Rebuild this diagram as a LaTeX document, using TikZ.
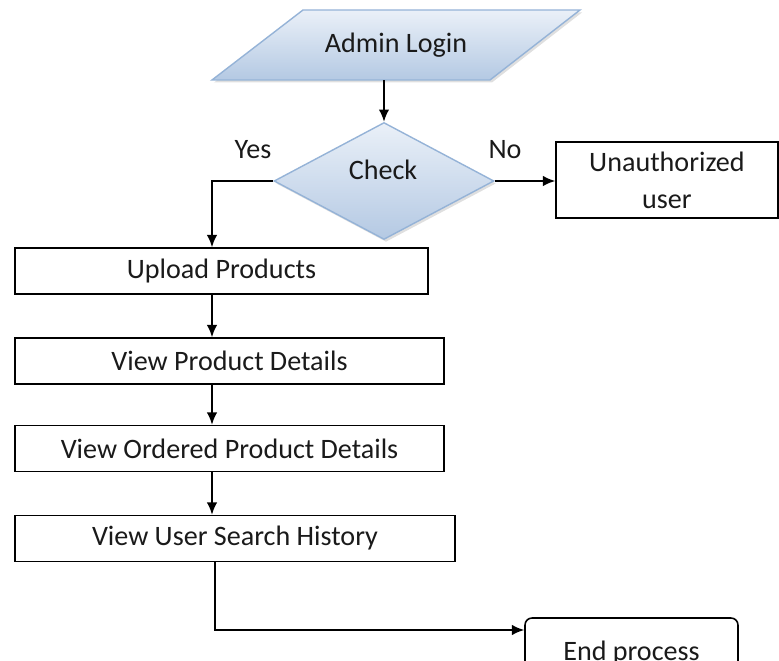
\documentclass[tikz,border=0pt]{standalone}
\usepackage{fontspec}
\setmainfont{Carlito}
\usepackage{tikz}
\usetikzlibrary{shapes.geometric,shadows,arrows.meta}
\definecolor{shapeedge}{HTML}{95B3D7}
\definecolor{shapetop}{HTML}{EAF0F8}
\definecolor{shapebottom}{HTML}{B4C9E3}
\definecolor{inktext}{HTML}{1A1A1A}

\begin{document}
\begin{tikzpicture}[x=0.02cm,y=-0.02cm,>={Latex[length=7pt,width=6pt]},
    every node/.style={font=\fontsize{16}{19}\selectfont,text=inktext},
    procbox/.style={draw,line width=0.9pt,minimum height=0.92cm,inner sep=0pt},
    conn/.style={->,line width=1pt}]
        \useasboundingbox (0,0) rectangle (779,661);

        % Input: admin login (parallelogram)
        \path[draw=shapeedge,line width=0.8pt,top color=shapetop,bottom color=shapebottom,
              drop shadow={opacity=0.25,shadow xshift=0.04cm,shadow yshift=-0.05cm}]
            (303,10) -- (580,10) -- (490,80) -- (212,80) -- cycle;
        \node[minimum height=1.4cm] (login) at (396,45) {Admin Login};

        % Decision
        \node[diamond,aspect=1.88,minimum width=4.4cm,minimum height=2.34cm,inner sep=0pt,
              draw=shapeedge,line width=0.8pt,top color=shapetop,bottom color=shapebottom,
              drop shadow={opacity=0.25,shadow xshift=0.04cm,shadow yshift=-0.05cm}]
            (check) at (384,181) {};
        \node (checktxt) at (383,170) {Check};
        \node (yes) at (253,150) {Yes};
        \node (no) at (505,150) {No};

        % Process boxes
        \node[procbox,minimum width=4.44cm,minimum height=1.52cm,align=center] (unauth) at (667,180)
            {Unauthorized\\[2pt]user};
        \node[procbox,minimum width=8.26cm] (upload) at (221.5,271) {Upload Products};
        \node[procbox,minimum width=8.58cm] (details) at (229.5,361) {View Product Details};
        \node[procbox,minimum width=8.58cm] (ordered) at (229.5,448.5) {View Ordered Product Details};
        \node[procbox,minimum width=8.8cm] (history) at (235,538.5) {View User Search History};
        \node[procbox,rounded corners=4pt,minimum width=4.26cm,minimum height=1.4cm] (endp) at (631.5,653)
            {End process};

        % Connectors
        \coordinate (spine) at (212,0);
        \draw[conn] (check.north |- login.south) -- (check.north);
        \draw[conn] (check.west) -| (upload.north -| spine);
        \draw[conn] (check.east) -- (unauth.west |- check.east);
        \draw[conn] (upload.south -| spine) -- (details.north -| spine);
        \draw[conn] (details.south -| spine) -- (ordered.north -| spine);
        \draw[conn] (ordered.south -| spine) -- (history.north -| spine);
        \draw[conn] ([xshift=0.06cm]history.south -| spine) |- ([yshift=0.46cm]endp.west);
    \end{tikzpicture}
\end{document}
